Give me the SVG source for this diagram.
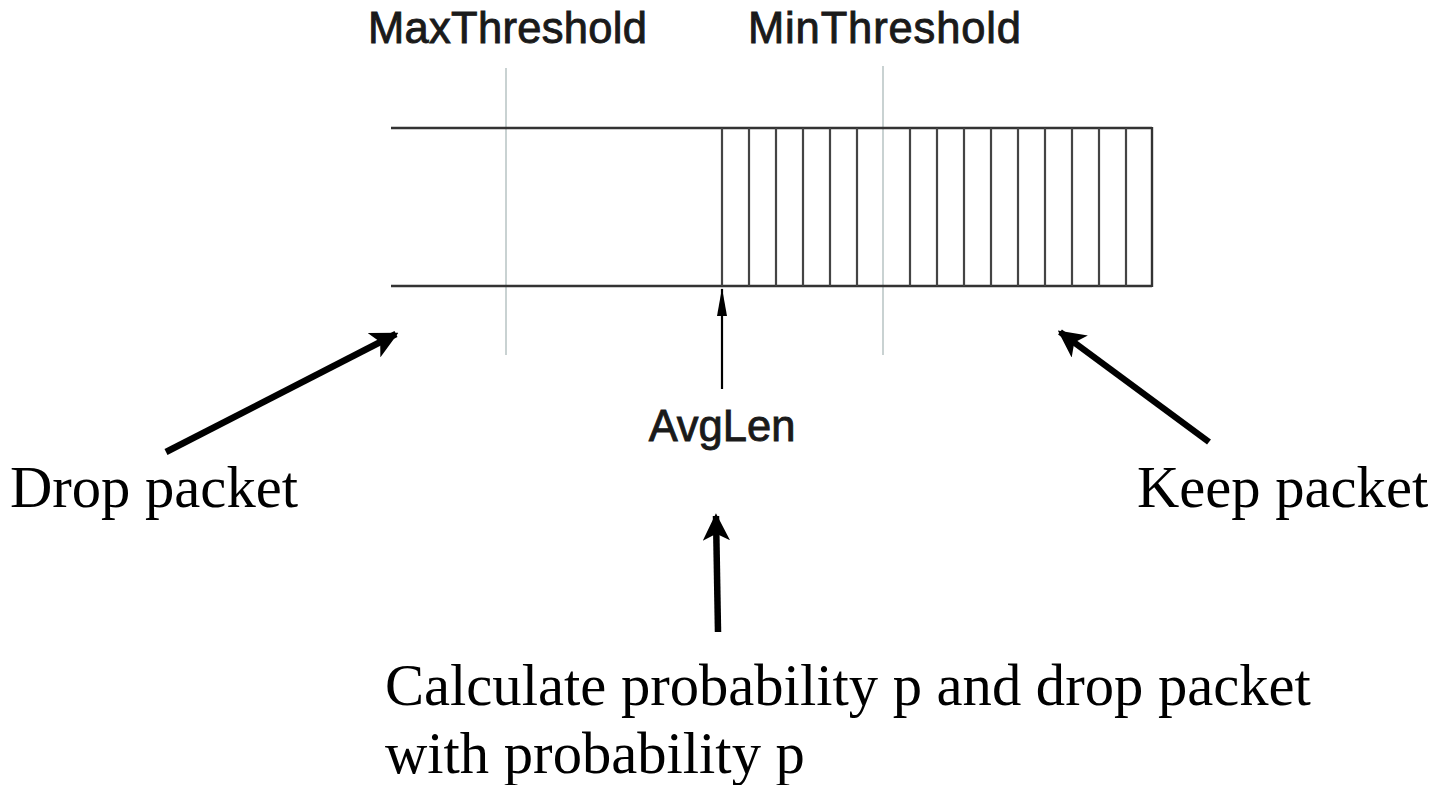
<svg xmlns="http://www.w3.org/2000/svg" width="1434" height="785" viewBox="0 0 1434 785">
<defs>
<style>
.sans{font-family:"Liberation Sans",Arial,sans-serif;font-size:43.5px;fill:#1a1a1a;stroke:#1a1a1a;stroke-width:0.9px}
.serif{font-family:"Liberation Serif","Times New Roman",serif;font-size:58.6px;fill:#000}
.thr{stroke:#c9d2d2;stroke-width:2}
.q{stroke:#333;stroke-width:2.4;fill:none}
.bar{stroke:#444;stroke-width:2.2}
.big{stroke:#000;stroke-width:6.5;fill:none}
</style>
<marker id="bh" viewBox="0 0 10 10" refX="9" refY="5" markerWidth="4.2" markerHeight="4.2" markerUnits="strokeWidth" orient="auto">
<path d="M0,0 L10,5 L0,10 L2.5,5 Z" fill="#000"/>
</marker>
<marker id="sh" viewBox="0 0 28 12" refX="27" refY="6" markerWidth="28" markerHeight="12" markerUnits="userSpaceOnUse" orient="auto">
<path d="M0,1 L28,6 L0,11 Z" fill="#000"/>
</marker>
</defs>
<rect width="1434" height="785" fill="#fff"/>
<g id="thresholds">
<line class="thr" x1="506" y1="68" x2="506" y2="355"/>
<line class="thr" x1="883" y1="66" x2="883" y2="355"/>
<text class="sans" x="368" y="43" textLength="279" lengthAdjust="spacing">MaxThreshold</text>
<text class="sans" x="748" y="43" textLength="273" lengthAdjust="spacing">MinThreshold</text>
</g>
<g id="queue">
<line class="q" x1="391" y1="128" x2="1152" y2="128"/>
<line class="q" x1="391" y1="286" x2="1152" y2="286"/>
<line class="q" x1="1152" y1="127" x2="1152" y2="287"/>
<g class="bar">
<line x1="722" y1="128" x2="722" y2="286"/>
<line x1="749" y1="128" x2="749" y2="286"/>
<line x1="776" y1="128" x2="776" y2="286"/>
<line x1="803" y1="128" x2="803" y2="286"/>
<line x1="830" y1="128" x2="830" y2="286"/>
<line x1="857" y1="128" x2="857" y2="286"/>
<line x1="910" y1="128" x2="910" y2="286"/>
<line x1="937" y1="128" x2="937" y2="286"/>
<line x1="964" y1="128" x2="964" y2="286"/>
<line x1="991" y1="128" x2="991" y2="286"/>
<line x1="1018" y1="128" x2="1018" y2="286"/>
<line x1="1045" y1="128" x2="1045" y2="286"/>
<line x1="1072" y1="128" x2="1072" y2="286"/>
<line x1="1099" y1="128" x2="1099" y2="286"/>
<line x1="1126" y1="128" x2="1126" y2="286"/>
</g>
</g>
<g id="avglen">
<text class="sans" x="722" y="441" text-anchor="middle">AvgLen</text>
</g>
<g id="drop">
<text class="serif" x="10" y="507">Drop packet</text>
</g>
<g id="keep">
<text class="serif" x="1137" y="507">Keep packet</text>
</g>
<g id="calc">
<text class="serif" x="385" y="705">Calculate probability p and drop packet</text>
<text class="serif" x="385" y="773">with probability p</text>
</g>
<g id="connectors">
<line x1="722" y1="389" x2="722" y2="289" stroke="#000" stroke-width="2.2" marker-end="url(#sh)"/>
<line class="big" x1="166" y1="452" x2="396" y2="334" marker-end="url(#bh)"/>
<line class="big" x1="1209" y1="442" x2="1060" y2="332" marker-end="url(#bh)"/>
<line class="big" x1="718" y1="632" x2="716" y2="516" marker-end="url(#bh)"/>
</g>
</svg>
